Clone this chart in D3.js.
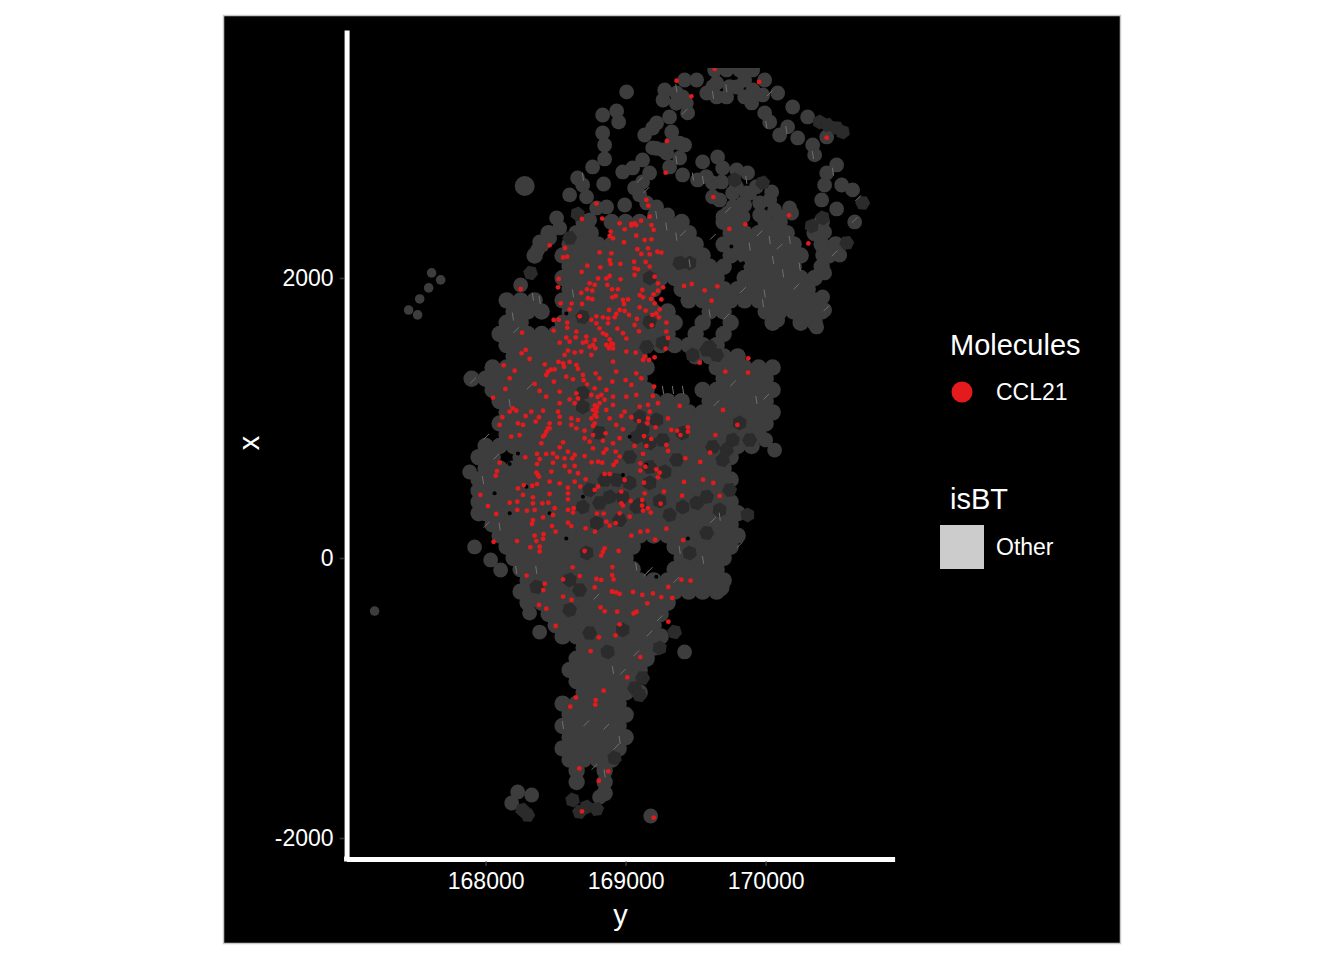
<!DOCTYPE html>
<html><head><meta charset="utf-8"><script src="https://cdn.jsdelivr.net/npm/d3@7"></script>
<style>html,body{margin:0;background:#fff}svg{display:block}text{font-family:"Liberation Sans",Arial,sans-serif;fill:#fff}</style>
</head><body><div id="chart"></div>
<script>
const xTicks=[168000,169000,170000];
const yTicks=[-2000,0,2000];
const moleculeLegend=["CCL21"];
const isBTLegend=["Other"];
// tissue cells read row by row: [x, [y, y, ...]]
const cellRows=[
[2400,[168700,168900,169000,169100,169200,169300,169400,169700,169800,170000,170100,170400]],
[2320,[168450,168650,168750,168950,169050,169150,169250,169350,169450,169750,169850,169950,170050,170150,170350]],
[2240,[168400,168600,168700,168800,168900,169000,169100,169200,169300,169400,169500,169700,169800,169900,170000,170100,170200,170400,170500]],
[2160,[168350,168550,168650,168750,168850,168950,169050,169150,169250,169350,169450,169550,169750,169850,169950,170050,170150,170250,170450]],
[2080,[168600,168700,168800,168900,169000,169100,169200,169300,169400,169500,169600,169700,169900,170000,170100,170200,170400]],
[2000,[168550,168650,168750,168850,168950,169050,169150,169250,169350,169450,169550,169650,169850,169950,170050,170150,170250,170350]],
[1920,[168600,168700,168800,168900,169000,169100,169200,169400,169500,169600,169700,169800,169900,170000,170100,170200,170300]],
[1840,[168150,168250,168350,168550,168650,168750,168850,168950,169050,169150,169450,169550,169650,169750,169850,169950,170050,170150,170250,170350]],
[1760,[168200,168300,168400,168600,168700,168800,168900,169000,169100,169200,169300,169600,169700,170000,170100,170200,170300,170400]],
[1680,[168150,168250,168550,168650,168750,168850,168950,169050,169150,169250,169350,169550,169750,170050,170250,170350]],
[1600,[168100,168200,168300,168400,168500,168600,168700,168800,168900,169000,169100,169200,169300,169500,169700]],
[1520,[168150,168250,168350,168450,168550,168650,168750,168850,168950,169050,169150,169250,169350,169450,169550,169650]],
[1440,[168200,168300,168400,168500,168600,168700,168800,168900,169000,169100,169500,169600,169700,169800]],
[1360,[168050,168150,168250,168350,168450,168550,168650,168750,168850,168950,169050,169150,169650,169750,169850,169950,170050]],
[1280,[167900,168000,168100,168200,168300,168400,168500,168600,168700,168800,168900,169000,169100,169700,169800,169900,170000]],
[1200,[168050,168150,168250,168350,168450,168550,168650,168750,168850,168950,169050,169150,169550,169650,169750,169850,169950,170050]],
[1120,[168100,168200,168300,168400,168500,168600,168700,168800,168900,169000,169100,169200,169300,169400,169600,169700,169800,169900,170000]],
[1040,[168150,168250,168350,168450,168550,168650,168750,168850,168950,169050,169150,169250,169350,169450,169550,169650,169750,169850,169950,170050]],
[960,[168100,168200,168300,168400,168500,168600,168700,168800,168900,169000,169100,169200,169300,169400,169500,169600,169700,169800,169900,170000]],
[880,[168150,168250,168350,168450,168550,168650,168750,168850,168950,169050,169150,169250,169350,169450,169550,169650,169750,169850,169950]],
[800,[168000,168100,168200,168300,168400,168500,168600,168700,168800,168900,169000,169100,169200,169300,169400,169500,169600,169700,169800,169900]],
[720,[167950,168050,168250,168350,168450,168550,168650,168750,168850,168950,169050,169150,169250,169350,169450,169550,169650,169750]],
[640,[168000,168100,168200,168300,168400,168500,168600,168700,168800,168900,169000,169100,169200,169300,169400,169500,169600,169700]],
[560,[167950,168050,168150,168250,168350,168450,168550,168650,168750,168850,168950,169050,169150,169250,169350,169450,169550,169650,169750]],
[480,[167950,168000,168100,168200,168300,168400,168500,168600,168700,168800,168900,169000,169100,169200,169300,169400,169500,169600,169700]],
[400,[167950,168050,168150,168250,168350,168450,168550,168650,168750,168850,168950,169050,169150,169250,169350,169450,169550,169650,169750]],
[320,[167950,168000,168100,168200,168300,168400,168500,168600,168700,168800,168900,169000,169100,169200,169300,169400,169500,169600,169700,169800]],
[240,[168050,168150,168250,168350,168450,168550,168650,168750,168850,168950,169050,169150,169250,169350,169450,169550,169650,169750]],
[160,[168100,168200,168300,168400,168500,168600,168700,168800,168900,169000,169100,169200,169300,169400,169500,169600,169700,169800]],
[80,[168150,168250,168350,168450,168550,168650,168750,168850,168950,169050,169350,169450,169550,169650,169750]],
[0,[168200,168300,168400,168500,168600,168700,168800,168900,169000,169400,169500,169600,169700]],
[-80,[168250,168350,168450,168550,168650,168750,168850,168950,169050,169350,169450,169550,169650]],
[-160,[168300,168400,168500,168600,168700,168800,168900,169000,169100,169200,169300,169400,169500,169600,169700]],
[-240,[168250,168350,168450,168550,168650,168750,168850,168950,169050,169150,169250,169350,169450,169550,169650]],
[-320,[168300,168400,168500,168600,168700,168800,168900,169000,169100,169200,169300]],
[-400,[168450,168550,168650,168750,168850,168950,169050,169150,169250]],
[-480,[168500,168600,168700,168800,168900,169000,169100,169200]],
[-560,[168550,168650,168750,168850,168950,169050,169150,169250]],
[-640,[168700,168800,168900,169000,169100,169200]],
[-720,[168650,168750,168850,168950,169050,169150]],
[-800,[168600,168700,168800,168900,169000,169100]],
[-880,[168650,168750,168850,168950,169050]],
[-960,[168700,168800,168900,169000,169100]],
[-1040,[168550,168650,168750,168850,168950]],
[-1120,[168600,168700,168800,168900,169000]],
[-1200,[168550,168650,168750,168850,168950]],
[-1280,[168600,168700,168800,168900,169000]],
[-1360,[168550,168650,168750,168850,168950]],
[-1440,[168600,168700,168800,168900]],
[-1520,[168650,168850]],
[-1600,[168650,168850]],
[-1680,[168850]]
];
// separate smaller cells: [y, x]
const outerCells=[
[169279,3343],[169364,3321],[169421,3414],[169507,3414],[169407,3293],[169579,3321],[169650,3293],[169721,3293],[169650,3393],[169793,3364],[169850,3414],[169850,3293],[169900,3250],[169993,3414],[169979,3307],[170086,3321],[169721,3486],[169814,3486],[169907,3486],[169636,3486],[169624,3367],[169743,3367],[169910,3343],[169362,3247],[169433,3247],[169267,3271],
[170193,3221],[169993,3179],[170029,3114],[170157,3079],[170100,3021],[170229,3000],[170336,2950],[170350,2879],[170300,3150],[170436,3007],
[169443,3179],[169314,3150],[169221,3107],[169193,3071],[169136,3021],[169329,3043],[169329,2964],[169421,2950],[169193,2929],[169293,2893],[169386,2857],[169314,2793],[169121,2843],[169050,2786],[168979,2757],[169171,2750],[169121,2686],[169064,2643],[169100,2593],[169150,2536],[169221,2507],[169207,2450],[169300,2450],[169267,2914],[169386,2962],[169219,2926],
[169007,3329],[168936,3193],[168836,3164],[168950,3114],[168836,3036],[168850,2950],[168850,2850],[168764,2793],[168657,2714],[168693,2664],[168600,2593],[168721,2579],[168843,2671],[168864,2507],[168793,2500],[168993,2521],[168743,2414],[168507,2429],[168529,2357],[168457,2286],[168371,2200],[168386,2257],[168250,1950],
[169550,2829],[169657,2864],[169693,2786],[169407,2736],[169514,2700],[169621,2679],[169686,2686],[169793,2771],[169871,2750],[170043,2614],[169764,2607],[169864,2607],[169957,2536],[169671,2557],[169729,2464],[169621,2579],[169850,2521],[169814,2450],[169957,2450],[170064,2486],[170171,2500],[170186,2464],[169767,2509],[169838,2533],[169886,2605],[169934,2652],[170029,2557],[170100,2438],[169981,2438],[169838,2438],[169695,2438],[169791,2652],[169576,2724],
[170436,2750],[170507,2807],[170421,2664],[170543,2664],[170621,2629],[170636,2400],[170400,2557],[170507,2493],[170421,2329],[170507,2221],[170407,2164],[170529,2164],[170421,2036],[170407,1864],[170421,1771],[170364,1650],[170086,1700],
[167886,614],[167921,79],[168314,-393],[168386,-529],[168107,-86],[169421,-671],[168036,-14],[170000,843],[170064,771],
[168229,-1671],[168329,-1693],[168186,-1750],[168814,-1707],[169179,-1843]
];
const strayCells=[[167614,2036],[167679,1986],[167593,1929],[167529,1850],[167450,1771],[167514,1736],[167207,-379]];
const largeCells=[[168279,2657],[169671,-207]];
const darkCells=[
[170386,3114],[170443,3093],[170507,3071],[170550,3043],[168657,2457],[168600,2286],[168321,2036],[169779,2700],[169979,2679],[170693,2536],[170407,2429],[170329,2371],[170579,2250],[169350,-529],[169871,307],[168264,-1800],[168300,-1836],[168621,-1729],[168721,-1779],[168793,-1793],[168671,-1814],
[169221,986],[169121,914],[169264,843],[169171,821],[169079,864],[169029,721],[168936,557],[169029,536],[168886,436],[168814,393],[168979,436],[169171,536],[169079,364],[168957,271],[168793,250],[168693,364],[169364,700],[169507,393],[169407,364],[169579,436],[169579,179],[169457,36],[169764,843],[169886,843],[169693,700],[169814,964],[169600,1507],[169650,1450],[168721,36],[168600,-157],[168671,-229],[168364,-207],[168693,1079],[168693,1179],[168814,893],[169100,1007],[169407,893],[169621,793],[169721,771],[169457,2107],[169386,2107],[169579,1486],[169479,1450],[169264,1536],[169150,1507],[168693,1721],[169171,2000],[169171,1686],[168743,-536],[168871,-671],[169243,-643],[169064,-929],[169100,-979],[168979,-514],[168600,-371],[169121,-857],[168921,-1429],
[169279,616],[169171,650],[169100,379],[169243,407],[169314,307],[168850,557],[168743,486],[169671,343],[169743,486]
];
// small black gaps between cells: [y, x]
const tissueGaps=[[168172,671],[168231,747],[168064,462],[168172,319],[168291,509],[168576,140],[169219,-134],[169445,140],[169029,866],[169148,664],[168695,438],[168981,593],[168457,319],[168576,1747],[169624,2343],[169600,2224],[169755,2224],[169838,2105]];
// pale slivers where cells overlap: [y, x]
const seamsVertical=[[169362,3355],[169624,3307],[169719,3355],[170005,3093],[170148,3057],[170338,2878],[170481,2759],[169553,2700],[169481,2724],[169862,2700],[169600,1747],[169993,1890],[169981,1819],[170029,2271],[170172,2271],[170243,2081],[170124,2033],[170053,2128],[169886,2224],[169362,2295],[169291,2367],[169219,2450],[169457,2105],[169362,2843],[168695,2724],[168338,1866],[168386,1843],[168195,1724],[168624,1890],[168172,1105],[169267,1200],[169338,1200],[169410,1200],[169934,1128],[167981,557],[169672,295],[169386,57],[169076,-62],[168100,224],[169553,-14],[168219,-86],[168362,-86],[168909,-800],[168552,-1193],[168957,-1300],[168850,-1538]];
const seamsSlanted=[[169422,3188],[170029,3319],[170636,2414],[170660,2569],[170493,2176],[169731,2486],[169719,1724],[169838,1914],[170434,1783],[170100,2224],[170219,1938],[169957,2319],[169410,2319],[169624,2295],[169100,2700],[169148,2628],[168219,1628],[167910,1267],[168314,1224],[169648,1105],[169767,1247],[170005,1152],[168005,867],[168076,724],[169624,271],[169815,93],[169172,-86],[168005,236],[169148,-110],[169362,-157],[168791,-276],[169243,-431],[169171,-539],[169076,-681],[168981,-812],[168862,-1205],[168719,-1181],[168933,-1348],[168778,-1491]];
// CCL21 molecules: [y, x]
const ccl21=[
[169636,3493],[169364,3409],[169953,3400],[169469,3297],[170436,3002],[169295,2978],[169286,2752],[169626,2578],[169148,2557],[169162,2516],[168791,2531],[168688,2421],[168833,2424],[170167,2447],[169855,2383],[169741,2350],[170305,2247],[169172,2438],[169110,2409],[168957,2390],[169064,2390],[169041,2374],[169184,2378],[169200,2343],[168993,2347],[168893,2331],[168886,2300],[168910,2283],[169076,2302],[169136,2271],[169184,2276],[168988,2255],[168457,2233],[168567,2214],[168553,2147],[168583,2152],[169084,2205],[169160,2212],[168814,2183],[168898,2176],[169112,2171],[169172,2169],[169226,2188],[169255,2181],[168886,2128],[168893,2100],[168962,2100],[169060,2116],[169143,2114],[168726,2088],[168819,2076],[169172,2081],[169064,2069],[169088,2062],[168686,2043],[169064,2021],[169207,2009],[168886,2014],[168862,1997],[168803,1997],[168522,1993],[168964,1990],[169231,1962],[168743,1962],[168779,1950],[169417,1943],[169472,1957],[169655,1940],[169267,1933],[168517,1933],[168250,1921],[168869,1950],[168724,1919],[168762,1909],[168903,1919],[168945,1919],[169119,1914],[169231,1909],[169564,1912],[168683,1893],[169100,1878],[169200,1883],[168929,1871],[168905,1862],[169124,1862],[168731,1855],[168762,1848],[169181,1850],[169255,1847],[168981,1843],[169017,1847],[169614,1838],[168536,1819],[168614,1817],[168688,1814],[168988,1814],[169207,1819],[169100,1790],[168600,1776],[169243,1776],[168881,1771],[168957,1771],[169143,1767],[168993,1764],[169219,1747],[168933,1743],[169024,1736],[169191,1736],[168672,1726],[168791,1726],[168838,1719],[168876,1712],[168922,1719],[169238,1719],[169081,1707],[168486,1700],[168522,1702],[168755,1700],[169291,1681],[168583,1681],[168791,1676],[168874,1676],[169064,1664],[169186,1662],[168583,1645],[168814,1640],[168941,1638],[168486,1624],[168648,1617],[168838,1605],[169095,1619],[168260,1609],[168981,1605],[169291,1617],[168719,1581],[168862,1593],[168576,1574],[168643,1576],[169005,1567],[169303,1571],[168779,1557],[168886,1562],[168529,1538],[168600,1545],[168695,1538],[168910,1528],[168767,1521],[169286,1495],[168588,1481],[168636,1467],[168683,1474],[168783,1498],[168881,1498],[169005,1474],[169072,1467],[168286,1486],[168257,1462],[168564,1450],[168755,1450],[169136,1438],[169876,1426],[168314,1421],
[168129,1376],[168207,1338],[168172,1283],[168141,1207],[168053,1145],[168350,1243],[168433,1307],[168422,1383],[168493,1347],[168553,1390],[168648,1378],[168576,1295],[168695,1307],[168786,1319],[168488,1259],[168624,1276],[168814,1283],[168910,1402],[168933,1331],[168905,1259],[169000,1271],[169076,1319],[169112,1283],[169041,1236],[169124,1414],[169167,1414],[169529,1395],[169712,1331],[169874,1324],[169207,1433],[168386,1193],[168529,1188],[168433,1152],[168529,1105],[168648,1176],[168600,1133],[168660,1140],[168636,1105],[168779,1212],[168755,1164],[168862,1200],[168826,1164],[168910,1152],[168814,1105],[168910,1093],[169005,1152],[169076,1164],[169195,1157],[169203,1224],[169231,1105],[169100,1081],[169160,1093],[169386,1086],[169695,1057],[168195,1069],[168172,1045],[168219,1052],[168326,1045],[168410,1052],[168517,1045],[168767,1057],[168791,1009],[168862,1057],[168993,1045],[169172,1045],[168119,1005],[168286,1014],[168381,1005],[168529,1009],[168612,997],[168660,986],[168969,1014],[169041,1005],[169303,997],[168100,950],[168231,962],[168357,974],[168457,962],[168529,962],[168612,950],[168779,962],[168886,997],[169160,997],[169155,962],[169095,978],[169798,950],[168267,950],[168457,926],[168648,926],[168767,943],[168933,950],[169214,933],[169326,914],[169445,933],[169367,909],[169445,902],[168433,902],[168243,878],[168183,867],[168707,909],[168857,890],[168981,919],[169131,871],[169391,878],[169641,878],[168410,867],[168707,855],[168767,878],[169183,850],[168398,819],[168553,826],[168743,831],[168838,838],[168957,855],[168910,819],[169064,800],[169148,800],[169291,807],[168529,790],[168767,783],[168862,776],[169303,764],[168588,759],[168843,752],[168929,759],[169124,743],[169603,752],[168367,743],[168433,743],[168481,747],[168636,736],[168707,728],[168957,724],[168283,719],[168564,712],[168619,712],[168510,719],[168386,705],[169426,712],[168100,681],[168933,688],[168757,683],[168803,688],[168833,681],[169533,686],[168367,671],[168481,681],[168564,657],[168636,657],[169105,676],[169141,652],[168914,664],[168081,621],[168072,588],[168362,609],[168469,617],[168600,617],[168660,605],[169219,633],[169105,624],[169243,609],[168850,600],[168886,600],[168381,581],[169231,576],[168714,562],[168993,557],[168457,545],[168529,533],[168636,545],[169417,543],[169553,559],[169626,536],[168272,521],[168333,516],[168367,528],[168588,502],[168676,509],[168803,509],[168779,486],[169131,538],[168231,497],[168267,450],[167962,450],[168457,457],[168588,462],[168969,474],[169136,462],[169274,474],[169403,445],[169672,443],[168338,433],[168588,419],[169119,414],[168172,395],[168226,402],[168338,390],[168405,390],[168448,395],[168969,390],[169036,407],[169250,388],[168017,371],[168226,343],[168350,343],[168493,355],[168629,355],[168981,374],[169117,374],[169160,355],[168295,338],[168410,290],[168588,343],[168624,324],[169124,338],[169179,324],[168076,314],[168481,307],[168338,271],[168795,317],[168843,317],[168957,319],[169029,295],[168588,252],[168862,259],[168929,248],[168331,243],[168886,231],[168474,228],[168612,228],[168714,212],[169291,209],[168500,188],[168781,188],[169105,188],[169157,193],[168350,159],[168414,171],[169041,159],[168410,136],[168057,116],[168224,121],[168362,121],[169210,131],[169410,128],[168386,81],[168319,76],[168850,69],[168386,47],[168707,50],[168950,50],[168838,45],[168826,17],[168622,-67],[168905,-65],[168903,-122],[168293,-126],[168672,-129],[168791,-150],[168826,-157],[168553,-153],[168914,-153],[169398,-155],[169464,-162],[168422,-184],[168779,-210],[169305,-207],[168412,-229],[168905,-241],[168957,-257],[169053,-243],[169195,-253],[169119,-264],[168553,-276],[169255,-279],[169333,-286],
[168902,-239],[168933,-246],[168614,-300],[168381,-336],[168433,-362],[168500,-486],[168821,-353],[168850,-381],[168940,-384],[169057,-396],[169078,-384],[169155,-324],[169305,-455],[168957,-474],[168928,-553],[168809,-567],[168750,-665],[169105,-708],[169012,-853],[168843,-948],[168645,-996],[168786,-1015],[168783,-1048],[168605,-1062],[168669,-1503],[168876,-1524],[168809,-1591],[168688,-1810],[169200,-1855],
[168445,926],[168422,878],[168779,1021],[168791,1045],[168755,997],[168374,593],[168719,1545],[168743,1509],[168862,1521],[168898,1533],[168886,1509],[168910,1497],[169041,2386],[169076,2378],[168445,1330],[168465,1345],[168520,1400],[168560,1365],[168600,1400],[168660,1350],[168700,1270],[168725,1240],[168800,1150],[168850,1130],[168780,1090],[168795,1075]
];

const W=1344,H=960;
const svg=d3.select("#chart").append("svg").attr("width",W).attr("height",H);
svg.append("rect").attr("x",223.5).attr("y",15.5).attr("width",897).attr("height",928).attr("fill","#000").attr("stroke","#c8c8c8").attr("stroke-width",1.5);
const xScale=d3.scaleLinear().domain([167007,170921]).range([346.6,894.6]);
const yScale=d3.scaleLinear().domain([-2150,3771]).range([859,30]);
svg.append("clipPath").attr("id","tissueClip").append("rect")
  .attr("x",xScale(167007)).attr("width",548).attr("y",yScale(3500)).attr("height",yScale(-2150)-yScale(3500));
const plot=svg.append("g").attr("clip-path","url(#tissueClip)");
const rowCells=cellRows.flatMap(([x,ys])=>ys.map(y=>[y,x]));
function dots(data,r,fill){plot.append("g").selectAll("circle").data(data).join("circle")
  .attr("cx",d=>xScale(d[0])).attr("cy",d=>yScale(d[1])).attr("r",r).attr("fill",fill);}
dots(rowCells,8.2,"#3d3d3d");
dots(outerCells,7.4,"#3d3d3d");
dots(strayCells,4.8,"#3d3d3d");
dots(largeCells,10,"#3d3d3d");
const hexagon=d3.lineRadial().curve(d3.curveLinearClosed)([0,1,2,3,4,5].map(k=>[k*Math.PI/3,7.6]));
plot.append("g").selectAll("path").data(darkCells).join("path")
  .attr("d",hexagon)
  .attr("transform",(d,i)=>`translate(${xScale(d[0])},${yScale(d[1])}) rotate(${(i*17)%60})`)
  .attr("fill","#2b2b2b");
dots(tissueGaps,2,"#000");
function seams(data,dx,dy){plot.append("g").selectAll("line").data(data).join("line")
  .attr("x1",d=>xScale(d[0])-dx).attr("x2",d=>xScale(d[0])+dx)
  .attr("y1",d=>yScale(d[1])-dy).attr("y2",d=>yScale(d[1])+dy)
  .attr("stroke","#707070").attr("stroke-width",1);}
seams(seamsVertical,0.6,4);
seams(seamsSlanted,2.8,-2.8);
dots(ccl21,2.4,"#e41a1c");

const plain=d=>String(d);
const xAxis=d3.axisBottom(xScale).tickValues(xTicks).tickSizeOuter(0).tickSizeInner(4.5).tickFormat(plain);
const yAxis=d3.axisLeft(yScale).tickValues(yTicks).tickSizeOuter(0).tickSizeInner(4.5).tickFormat(plain);
const gx=svg.append("g").attr("transform","translate(0,859)").call(xAxis);
const gy=svg.append("g").attr("transform","translate(346.6,0)").call(yAxis);
[gx,gy].forEach(g=>{
  g.select(".domain").attr("stroke","#fff").attr("stroke-width",5);
  g.selectAll(".tick line").attr("stroke","#333").attr("stroke-width",1.6);
  g.selectAll(".tick text").attr("font-size",23).attr("fill","#fff").attr("font-family","Liberation Sans");
});
// square off the corner where the two axis lines meet
svg.append("rect").attr("x",344.1).attr("y",856.5).attr("width",5).attr("height",5).attr("fill","#fff");
gx.selectAll(".tick line").attr("y1",2.5).attr("y2",7);
gx.selectAll(".tick text").attr("y",14);
gy.selectAll(".tick line").attr("x1",-2.5).attr("x2",-7);
gy.selectAll(".tick text").attr("x",-13);
svg.append("text").attr("x",620.5).attr("y",925).attr("text-anchor","middle").attr("font-size",29).text("y");
svg.append("text").attr("transform","translate(259,443) rotate(-90)").attr("text-anchor","middle").attr("font-size",29).text("x");
svg.append("text").attr("x",950).attr("y",355).attr("font-size",29).text("Molecules");
svg.append("circle").attr("cx",962).attr("cy",392).attr("r",10.5).attr("fill","#e41a1c");
svg.append("text").attr("x",996).attr("y",400).attr("font-size",23).text(moleculeLegend[0]);
svg.append("text").attr("x",950).attr("y",509).attr("font-size",29).text("isBT");
svg.append("rect").attr("x",940).attr("y",525).attr("width",44).attr("height",44).attr("fill","#cccccc");
svg.append("text").attr("x",996).attr("y",555).attr("font-size",23).text(isBTLegend[0]);
</script></body></html>
